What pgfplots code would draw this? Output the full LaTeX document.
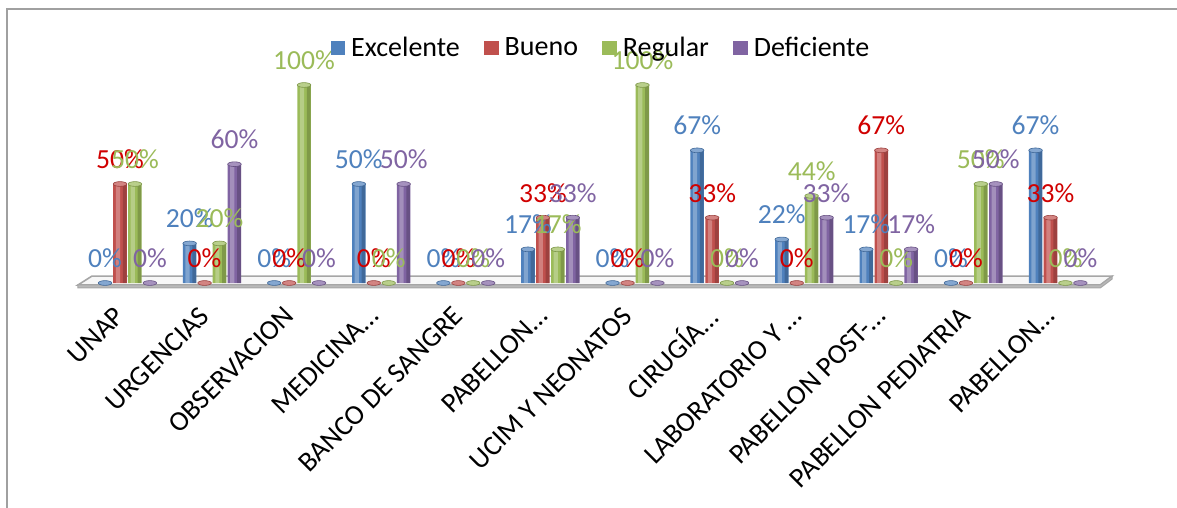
\documentclass[border=0pt]{standalone}
\usepackage{pgfplots}
\pgfplotsset{compat=1.18}
\usepackage{pgfplotstable}
\usepackage{fontspec}
\setmainfont{Carlito}
\definecolor{cE}{HTML}{4F81BD}
\definecolor{cB}{HTML}{C0504D}
\definecolor{cR}{HTML}{9BBB59}
\definecolor{cD}{HTML}{8064A2}
\definecolor{lE}{HTML}{4F81BD}
\definecolor{lB}{HTML}{D00000}
\definecolor{lR}{HTML}{9BBB59}
\definecolor{lD}{HTML}{8064A2}
\definecolor{frame}{HTML}{A0A0A0}

\pgfplotstableread{
x E B R D
0 0 50 50 0
1 20 0 20 60
2 0 0 100 0
3 50 0 0 50
4 0 0 0 0
5 17 33 17 33
6 0 0 100 0
7 67 33 0 0
8 22 0 44 33
9 17 67 0 17
10 0 0 50 50
11 67 33 0 0
}\data

\pgfplotsset{
  cyl/.style n args={2}{ybar, bar width=0.16, bar shift=#2, draw=none, fill=#1, forget plot},
  hl/.style={ybar, bar width=0.05, bar shift=#1, draw=none, fill=white, fill opacity=0.28, forget plot},
  dk/.style={ybar, bar width=0.045, bar shift=#1, draw=none, fill=black, fill opacity=0.18, forget plot},
  cap/.style n args={2}{only marks, mark=*, mark size=3.38pt, forget plot,
    mark options={yscale=0.35, fill=#1!70!white, draw=#1!80!black, line width=0.3pt},
    nodes near coords={\pgfmathprintnumber{\pgfplotspointmeta}\%},
    every node near coord/.append style={text=#2, font=\fontsize{13.8}{16}\selectfont,
      anchor=south, inner sep=0pt, yshift=7.5pt}},
}

\begin{document}
\begin{tikzpicture}
\path[use as bounding box] (-38.35pt,-112.5pt) rectangle (550.15pt,141.5pt);
\draw[color=frame, line width=1pt] (-34.85pt,-200pt) -- (-34.85pt,137pt) -- (700pt,137pt);
\begin{axis}[
  at={(0,0)}, anchor=south west,
  scale only axis, width=516pt, height=99pt,
  xmin=-0.6, xmax=11.6, ymin=0, ymax=100,
  clip=false,
  axis line style={draw=none},
  tick style={draw=none},
  ytick=\empty,
  xtick={0,...,11},
  xticklabels={UNAP,URGENCIAS,OBSERVACION,MEDICINA…,BANCO DE SANGRE,PABELLON…,UCIM Y NEONATOS,CIRUGÍA…,LABORATORIO Y …,PABELLON POST-…,PABELLON PEDIATRIA,PABELLON…},
  xticklabel style={font=\fontsize{14}{16}\selectfont, inner sep=1pt, xshift=-3pt, yshift=-13.5pt, rotate=45, anchor=east},
  /pgf/number format/assume math mode=true,
  legend columns=4,
  legend image code/.code={\fill[#1] (0pt,-3.6pt) rectangle (7.2pt,3.6pt);},
  legend style={draw=none, fill=none, at={(0.508,1.187)}, anchor=center,
    font=\fontsize{14}{16}\selectfont, nodes={inner sep=1pt},
    /tikz/every odd column/.append style={column sep=2pt},
    /tikz/every even column/.append style={column sep=11.2pt}},
]
% floor
\addplot[fill=gray!6, draw=gray!70, line width=0.8pt, forget plot] coordinates {(-0.42,3.5) (11.64,3.5) (11.5,-1) (-0.585,-1)} -- cycle;
\addplot[fill=gray!55, draw=gray!70, line width=0.5pt, forget plot] coordinates {(-0.585,-1) (11.5,-1) (11.64,3.5) (11.64,2) (11.5,-2.5) (-0.585,-2.5)} -- cycle;

\addplot[cyl={cE}{-0.265}] table[x=x,y=E]{\data};
\addplot[hl=-0.29] table[x=x,y=E]{\data};
\addplot[dk=-0.21] table[x=x,y=E]{\data};
\addplot[cap={cE}{lE}] table[x expr=\thisrow{x}-0.265,y=E]{\data};

\addplot[cyl={cB}{-0.088}] table[x=x,y=B]{\data};
\addplot[hl=-0.113] table[x=x,y=B]{\data};
\addplot[dk=-0.033] table[x=x,y=B]{\data};
\addplot[cap={cB}{lB}] table[x expr=\thisrow{x}-0.088,y=B]{\data};

\addplot[cyl={cR}{0.088}] table[x=x,y=R]{\data};
\addplot[hl=0.063] table[x=x,y=R]{\data};
\addplot[dk=0.143] table[x=x,y=R]{\data};
\addplot[cap={cR}{lR}] table[x expr=\thisrow{x}+0.088,y=R]{\data};

\addplot[cyl={cD}{0.265}] table[x=x,y=D]{\data};
\addplot[hl=0.24] table[x=x,y=D]{\data};
\addplot[dk=0.32] table[x=x,y=D]{\data};
\addplot[cap={cD}{lD}] table[x expr=\thisrow{x}+0.265,y=D]{\data};

\addlegendimage{fill=cE, draw=none}\addlegendentry{Excelente}
\addlegendimage{fill=cB, draw=none}\addlegendentry{Bueno}
\addlegendimage{fill=cR, draw=none}\addlegendentry{Regular}
\addlegendimage{fill=cD, draw=none}\addlegendentry{Deficiente}
\end{axis}
\end{tikzpicture}
\end{document}
